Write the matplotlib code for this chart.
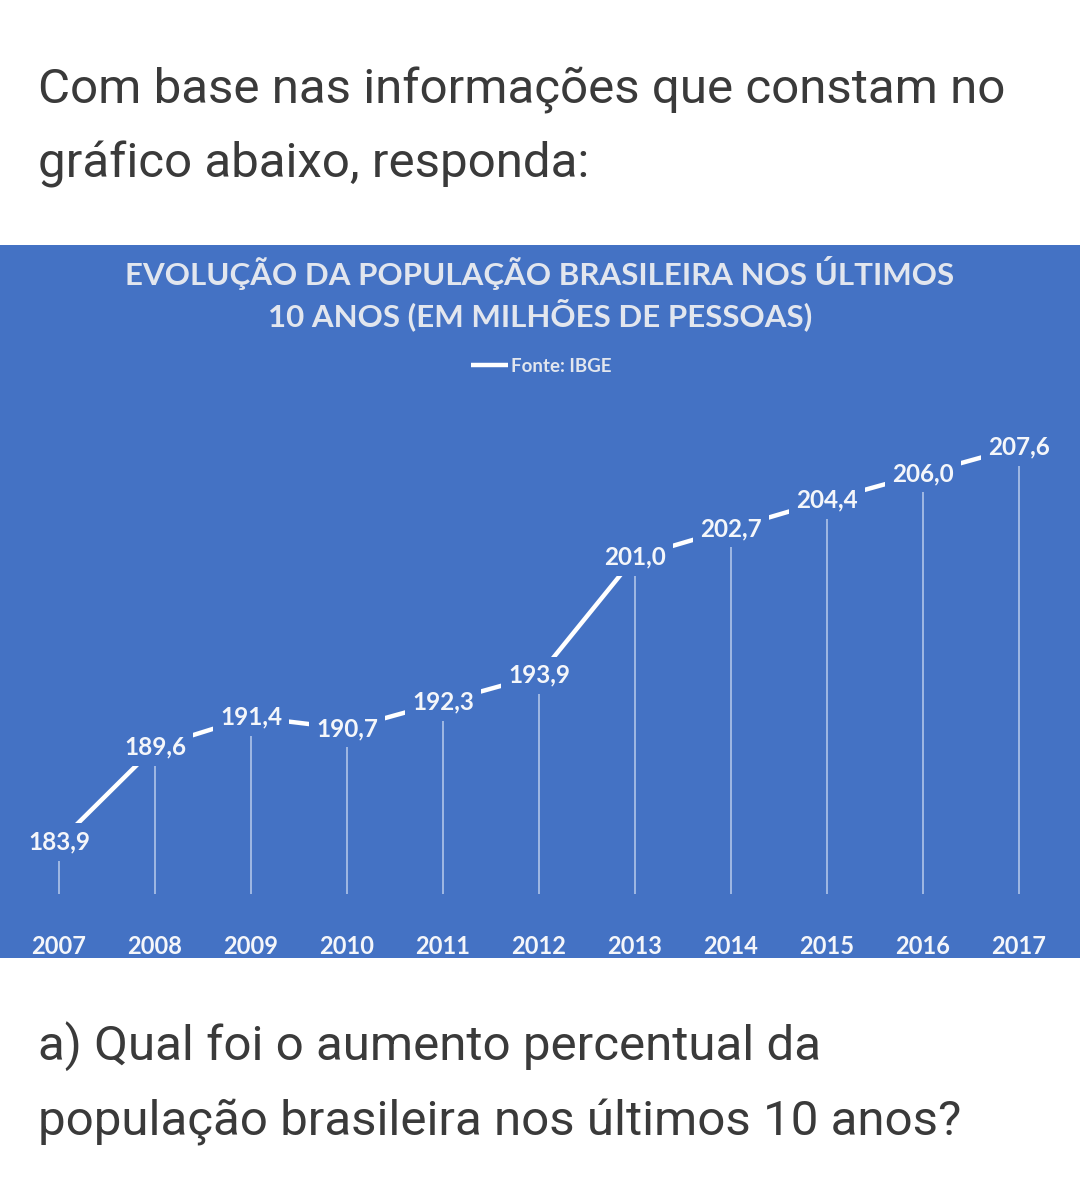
import matplotlib.pyplot as plt
from matplotlib.patches import Rectangle

# dados do grafico (IBGE)
anos = [2007, 2008, 2009, 2010, 2011, 2012, 2013, 2014, 2015, 2016, 2017]
populacao = [183.9, 189.6, 191.4, 190.7, 192.3, 193.9, 201.0, 202.7, 204.4, 206.0, 207.6]

titulo = 'EVOLUÇÃO DA POPULAÇÃO BRASILEIRA NOS ÚLTIMOS\n10 ANOS (EM MILHÕES DE PESSOAS)'
fonte = 'Fonte: IBGE'
texto_topo = ['Com base nas informações que constam no', 'gráfico abaixo, responda:']
texto_baixo = ['a) Qual foi o aumento percentual da', 'população brasileira nos últimos 10 anos?']

W, H = 1080, 1178
AZUL = '#4472c4'
fig = plt.figure(figsize=(W / 100, H / 100), dpi=100, facecolor='white')

def fy(py):  # pixel (from top) -> figure fraction
    return 1 - py / H

# blue panel
fig.patches.append(Rectangle((0, fy(958)), 1, (958 - 245) / H, transform=fig.transFigure,
                             facecolor=AZUL, edgecolor='none', zorder=0))

# text around the chart
for i, t in enumerate(texto_topo):
    fig.text(38 / W, fy(103 + 75 * i), t, fontsize=35.5, family='Roboto', color='#3a3a3a', va='baseline')
for i, t in enumerate(texto_baixo):
    fig.text(38 / W, fy(1060 + 75 * i), t, fontsize=35.5, family='Roboto', color='#3a3a3a', va='baseline')

fig.text(0.5, fy(294), titulo, ha='center', va='center', fontsize=22.5, family='Lato',
         fontweight='bold', color='#e2e6ee', linespacing=1.3)

ax = fig.add_axes([0, fy(925), 1, (925 - 420) / H])
ax.set_zorder(3)
ax.set_facecolor('none')
ax.set_xlim(2007 - 59 / 96, 2007 + 1021 / 96)
ax.set_ylim(178.92, 209.22)

ax.plot(anos, populacao, color='white', lw=3.2, solid_capstyle='butt', zorder=3, label=fonte)
ax.vlines(anos, 180.8, populacao, color='#b9cbec', lw=1.1, zorder=2)

for a, v in zip(anos, populacao):
    ax.text(a, v, f'{v:.1f}'.replace('.', ','), ha='center', va='center', fontsize=17.5,
            family='Lato', fontweight='bold', color='#f4f6fa', zorder=5,
            bbox=dict(boxstyle='square,pad=0.3', facecolor=AZUL, edgecolor='none'))

ax.set_xticks(anos)
ax.set_xticklabels([str(a) for a in anos], fontsize=17, family='Lato', fontweight='bold', color='#f4f6fa')
ax.tick_params(axis='x', length=0, pad=7)
ax.set_yticks([])
for s in ax.spines.values():
    s.set_visible(False)

leg = ax.legend(loc='center', bbox_to_anchor=(541 / W, (925 - 366) / 505), frameon=False,
                handlelength=2.0, handletextpad=0.15, prop={'family': 'Lato', 'weight': 'bold', 'size': 13.5})
for t in leg.get_texts():
    t.set_color('#e2e6ee')

fig.savefig('out.png', dpi=100, facecolor='white')
